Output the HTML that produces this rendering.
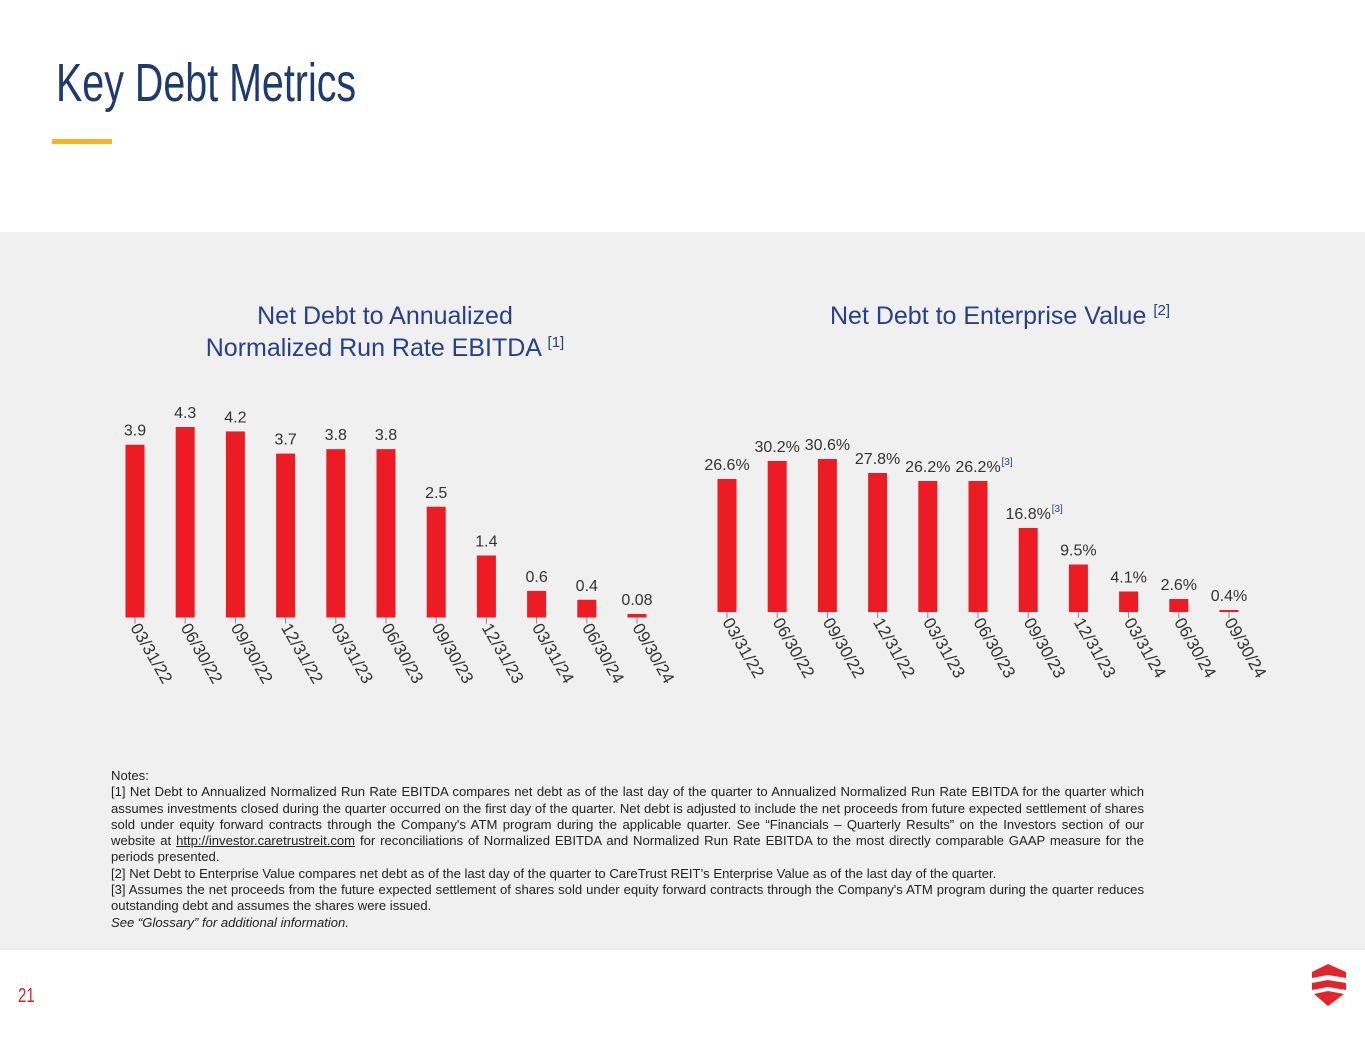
<!DOCTYPE html>
<html><head><meta charset="utf-8"><style>
body{margin:0;width:1365px;height:1055px;background:#fff;position:relative;overflow:hidden;font-family:"Liberation Sans",sans-serif}
#title{position:absolute;left:56px;top:52px;font-family:"Liberation Sans Narrow","Liberation Sans",sans-serif;font-size:54px;color:#1f3a6e;transform:scaleX(0.73);transform-origin:left top;white-space:nowrap}
#rule{position:absolute;left:52px;top:139px;width:60px;height:5px;background:#f5b623}
#panel{position:absolute;left:0;top:232px;width:1365px;height:718px;background:#f0f0f0}
.ct{position:absolute;color:#27408b;font-size:25px;text-align:center;line-height:32px}
.ct sup{font-size:15px;vertical-align:9px;line-height:0}
#notes{position:absolute;left:111px;top:768px;width:1033px;font-size:13.1px;line-height:16.3px;color:#222;text-align:justify}
#notes p{margin:0}
#pg{position:absolute;left:18px;top:985px;color:#e02020;font-size:20px;transform:scaleX(0.75);transform-origin:left top}
svg text{font-family:"Liberation Sans",sans-serif}
</style></head><body>
<div id="title">Key Debt Metrics</div>
<div id="rule"></div>
<div id="panel"></div>
<div class="ct" style="left:150px;top:300px;width:470px">Net Debt to Annualized<br>Normalized Run Rate EBITDA <sup>[1]</sup></div>
<div class="ct" style="left:760px;top:300px;width:480px">Net Debt to Enterprise Value <sup>[2]</sup></div>
<svg id="chart" width="1365" height="1055" style="position:absolute;left:0;top:0"></svg>
<div id="notes">
<p>Notes:</p>
<p>[1] Net Debt to Annualized Normalized Run Rate EBITDA compares net debt as of the last day of the quarter to Annualized Normalized Run Rate EBITDA for the quarter which assumes investments closed during the quarter occurred on the first day of the quarter. Net debt is adjusted to include the net proceeds from future expected settlement of shares sold under equity forward contracts through the Company's ATM program during the applicable quarter. See “Financials – Quarterly Results” on the Investors section of our website at <u>http://investor.caretrustreit.com</u> for reconciliations of Normalized EBITDA and Normalized Run Rate EBITDA to the most directly comparable GAAP measure for the periods presented.</p>
<p>[2] Net Debt to Enterprise Value compares net debt as of the last day of the quarter to CareTrust REIT’s Enterprise Value as of the last day of the quarter.</p>
<p>[3] Assumes the net proceeds from the future expected settlement of shares sold under equity forward contracts through the Company's ATM program during the quarter reduces outstanding debt and assumes the shares were issued.</p>
<p><i>See “Glossary” for additional information.</i></p>
</div>
<div id="pg">21</div>
<svg style="position:absolute;left:1310px;top:962px" width="40" height="48">
<polygon points="2,10 18,2 36,10 36,16 18,13 2,16" fill="#e3242b"/>
<polygon points="2,21 18,18 36,21 36,28 18,25 2,28" fill="#e3242b"/>
<polygon points="4,32 18,29 34,32 18,44" fill="#e3242b"/>
</svg>
<script>
const categories=["03/31/22","06/30/22","09/30/22","12/31/22","03/31/23","06/30/23","09/30/23","12/31/23","03/31/24","06/30/24","09/30/24"];
const ebitdaValues=[3.9,4.3,4.2,3.7,3.8,3.8,2.5,1.4,0.6,0.4,0.08];
const ebitdaLabels=["3.9","4.3","4.2","3.7","3.8","3.8","2.5","1.4","0.6","0.4","0.08"];
const evValues=[26.6,30.2,30.6,27.8,26.2,26.2,16.8,9.5,4.1,2.6,0.4];
const evLabels=["26.6%","30.2%","30.6%","27.8%","26.2%","26.2%","16.8%","9.5%","4.1%","2.6%","0.4%"];
const evNotes=["","","","","","[3]","[3]","","","",""];
const svg=document.getElementById('chart');
const NS='http://www.w3.org/2000/svg';
function mk(t,a){const e=document.createElementNS(NS,t);for(const k in a)e.setAttribute(k,a[k]);svg.appendChild(e);return e;}
function draw(prefix,vals,labels,notes,x0,step,base,scale){
  const xs=i=>x0+i*step, ys=v=>base-v*scale;
  vals.forEach((v,i)=>{
    const cx=xs(i),top=ys(v);
    const h=Math.max(base-top,2);
    const r=mk('rect',{x:cx-9.5,y:base-h,width:19,height:h,fill:'#ed1c24'});
    
    
    const tk=mk('line',{x1:cx,x2:cx,y1:base,y2:base+6,stroke:'#888','stroke-width':1});
    
    
    const t=mk('text',{x:cx,y:base-h-9,'text-anchor':'middle','font-size':16,fill:'#333'});
    t.textContent=labels[i];
    
    
    if(notes&&notes[i]){
      const n=mk('text',{x:cx+(labels[i].length*4.5)+1,y:base-h-16,'font-size':10,fill:'#27408b'});
      n.textContent=notes[i];
      
      
    }
    const c=mk('text',{x:0,y:0,'font-size':17,fill:'#333',transform:`translate(${cx-5},${base+10}) rotate(60)`});
    c.textContent=categories[i];
    
    
  });
}
draw('ebitda',ebitdaValues,ebitdaLabels,null,135,50.2,617.5,44.3);
draw('ev',evValues,evLabels,evNotes,727,50.2,612,5.0);
</script>
</body></html>
